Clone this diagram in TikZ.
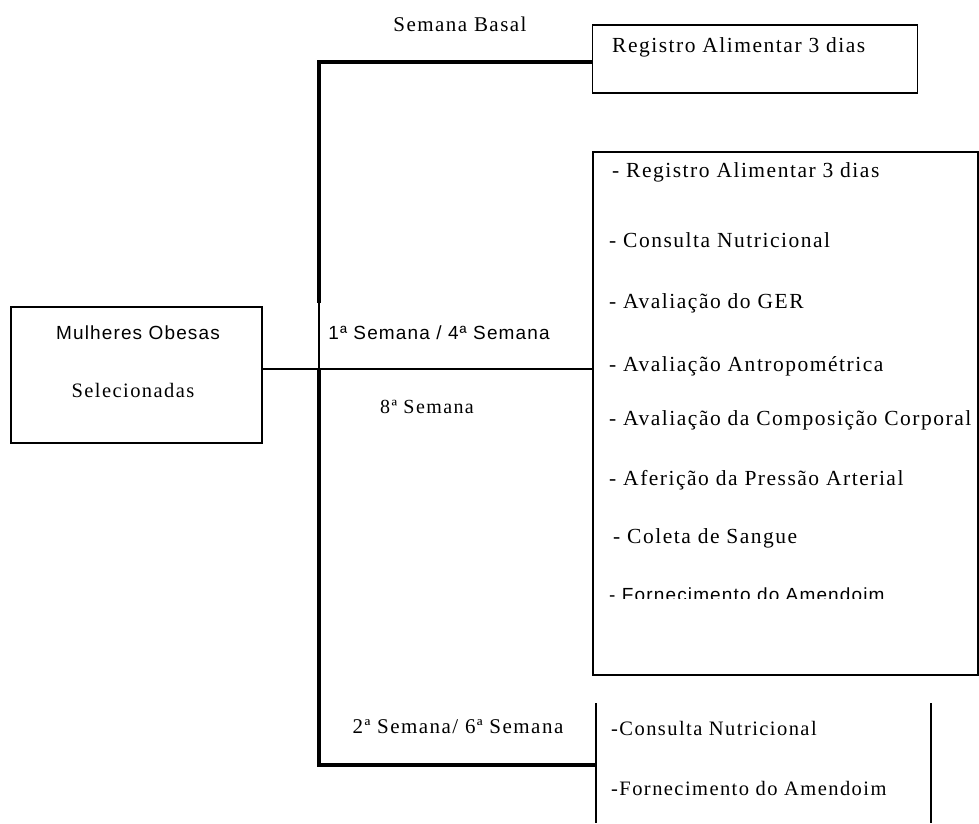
\documentclass[tikz,border=0pt]{standalone}
\usepackage{fontspec}
\setmainfont{Liberation Serif}
\newfontfamily\wserif[LetterSpace=7]{Liberation Serif}
\newfontfamily\wsans[LetterSpace=6]{Liberation Sans}
\begin{document}
\begin{tikzpicture}[x=1pt,y=-1pt,
  bus/.style={line width=3.5pt},
  thinline/.style={line width=1.6pt},
  boxline/.style={draw,line width=1.6pt,inner sep=0pt},
  itm/.style={anchor=west,inner sep=0pt,font=\wserif\fontsize{21.5}{23}\selectfont},
  sitm/.style={anchor=west,inner sep=0pt,font=\wsans\fontsize{19}{21}\selectfont},
  lbl/.style={inner sep=0pt,font=\wserif\fontsize{20}{22}\selectfont},
  slbl/.style={inner sep=0pt,font=\wsans\fontsize{19}{21}\selectfont}]
\useasboundingbox (0,0) rectangle (979,823);
% boxes
\node[boxline,minimum width=251pt,minimum height=136pt] (left) at (136.5,375) {};
\node[slbl] (l1) at (138,333) {Mulheres Obesas};
\node[lbl,font=\wserif\fontsize{20.5}{22}\selectfont] (l2) at (133,390) {Selecionadas};
\node[boxline,minimum width=325pt,minimum height=68pt] (reg) at (755,59) {};
\node[itm] (regt) at (612,47) {Registro Alimentar 3 dias};
\node[boxline,minimum width=385pt,minimum height=523pt] (big) at (785.5,413.5) {};
\node[itm] (i1) at (612,172) {- Registro Alimentar 3 dias};
\node[itm] (i2) at (609,240) {- Consulta Nutricional};
\node[itm] (i3) at (609,303) {- Avaliação do GER};
\node[itm] (i4) at (609,366) {- Avaliação Antropométrica};
\node[itm] (i5) at (609,420) {- Avaliação da Composição Corporal};
\node[itm] (i6) at (609,480) {- Aferição da Pressão Arterial};
\node[itm] (i7) at (613,538) {- Coleta de Sangue};
\begin{scope}
\clip (600,570) rectangle (975,598);
\node[sitm] (i8) at (609,595) {- Fornecimento do Amendoim};
\end{scope}
% labels on bus
\node[lbl,font=\wserif\fontsize{21}{23}\selectfont] (sb) at (460,24) {Semana Basal};
\node[slbl] (s14) at (439,333) {1ª Semana / 4ª Semana};
\node[lbl] (s8) at (427,407) {8ª Semana};
\node[lbl,font=\wserif\fontsize{21}{23}\selectfont] (s26) at (458,727) {2ª Semana/ 6ª Semana};
\node[itm,font=\wserif\fontsize{20.5}{22}\selectfont] (b1) at (611,728) {-Consulta Nutricional};
\node[itm,font=\wserif\fontsize{20.5}{22}\selectfont] (b2) at (611,788) {-Fornecimento do Amendoim};
% bottom open box
\coordinate (bl1) at (596,703);
\coordinate (bl2) at (596,823);
\coordinate (br1) at (931,703);
\coordinate (br2) at (931,823);
\draw[thinline] (bl1) -- (bl2);
\draw[line width=2.5pt] (br1) -- (br2);
% bus
\coordinate (bt) at (319,62);
\coordinate (bm1) at (319,303);
\coordinate (bm2) at (319,369);
\coordinate (bb) at (319,765);
\draw[bus] (reg.west |- bt) -- (bt) -- (bm1);
\draw[thinline] (bm1) -- (bm2);
\draw[bus] (bm2) -- (bb) -- (bl1 |- bb);
\draw[thinline] (left.east |- bm2) -- (big.west |- bm2);
\end{tikzpicture}
\end{document}
